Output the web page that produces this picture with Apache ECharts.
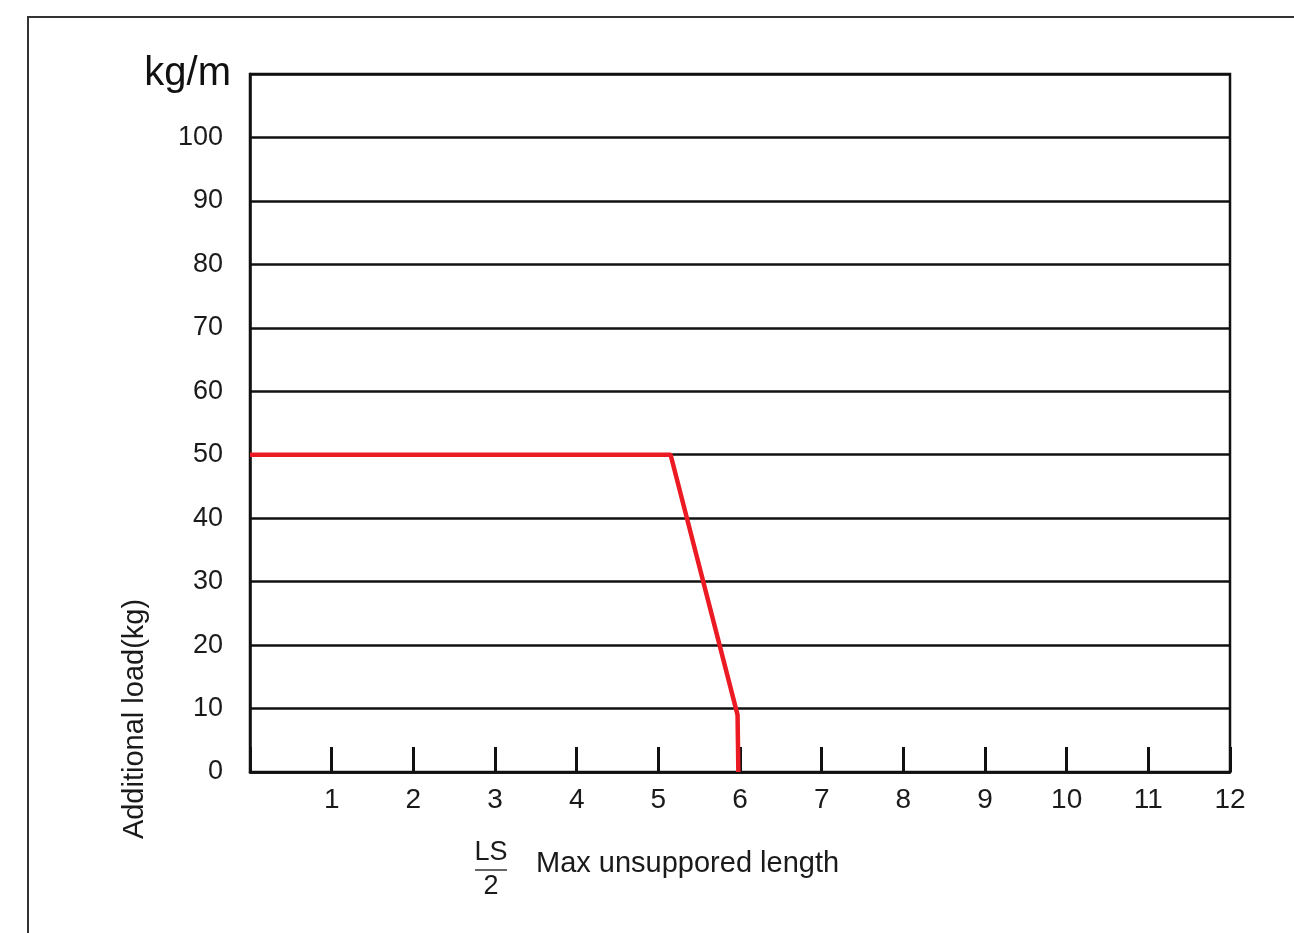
<!DOCTYPE html>
<html>
<head>
<meta charset="utf-8">
<script src="https://cdn.jsdelivr.net/npm/echarts@6/dist/echarts.min.js"></script>
<style>html,body{margin:0;padding:0;background:#fff;}#c{width:1294px;height:933px;}</style>
</head>
<body>
<div id="c"></div>
<script>
// Data
var lengthX = [0, 5.15, 5.97, 5.98];
var loadY = [50, 50, 9, 0];
var xTicks = [1,2,3,4,5,6,7,8,9,10,11,12];
var yTicks = [0,10,20,30,40,50,60,70,80,90,100];

var FONT = 'Liberation Sans, Arial, Helvetica, sans-serif';
var pts = lengthX.map(function(x, i){ return [x, loadY[i]]; });

var chart = echarts.init(document.getElementById('c'));
chart.setOption({
  backgroundColor: '#fff',
  animation: false,
  grid: {left: 250, right: 64, top: 74, bottom: 161, show: true, borderColor: '#111', borderWidth: 2.5, backgroundColor: 'transparent'},
  xAxis: {
    type: 'value', min: 0, max: 12, interval: 1,
    axisLine: {show: true, lineStyle: {color: '#111', width: 2.5}},
    axisTick: {show: true, inside: true, length: 25, lineStyle: {color: '#111', width: 3}},
    splitLine: {show: false},
    axisLabel: {
      margin: 14, fontSize: 28, color: '#1a1a1a', fontFamily: FONT,
      formatter: function(v){ return xTicks.indexOf(v) >= 0 ? String(v) : ''; }
    }
  },
  yAxis: {
    type: 'value', min: 0, max: 110, interval: 10,
    axisLine: {show: true, lineStyle: {color: '#111', width: 2.5}},
    axisTick: {show: false},
    splitLine: {show: true, lineStyle: {color: '#111', width: 2.5}},
    axisLabel: {
      margin: 27, fontSize: 27, color: '#1a1a1a', fontFamily: FONT, padding: [7, 0, 0, 0],
      formatter: function(v){ return yTicks.indexOf(v) >= 0 ? String(v) : ''; }
    }
  },
  series: [{
    type: 'line', data: pts, symbol: 'none',
    lineStyle: {color: '#ec1b23', width: 4.5}
  }],
  graphic: [
    {type: 'line', shape: {x1: 27, y1: 17, x2: 1294, y2: 17}, style: {stroke: '#333', lineWidth: 2}},
    {type: 'line', shape: {x1: 28, y1: 17, x2: 28, y2: 933}, style: {stroke: '#333', lineWidth: 2}},
    {type: 'text', style: {text: 'kg/m', x: 231, y: 74, align: 'right', verticalAlign: 'middle', font: '40px ' + FONT, fill: '#111'}},
    {type: 'text', rotation: Math.PI/2, x: 135, y: 719,
      style: {text: 'Additional load(kg)', x: 0, y: 0, align: 'center', verticalAlign: 'middle', font: '29px ' + FONT, fill: '#1a1a1a'}},
    {type: 'text', style: {text: 'LS', x: 491, y: 853, align: 'center', verticalAlign: 'middle', font: '27px ' + FONT, fill: '#1a1a1a'}},
    {type: 'line', shape: {x1: 475, y1: 870, x2: 507, y2: 870}, style: {stroke: '#333', lineWidth: 1.5}},
    {type: 'text', style: {text: '2', x: 491, y: 887, align: 'center', verticalAlign: 'middle', font: '27px ' + FONT, fill: '#1a1a1a'}},
    {type: 'text', style: {text: 'Max unsuppored length', x: 536, y: 864, align: 'left', verticalAlign: 'middle', font: '29px ' + FONT, fill: '#1a1a1a'}}
  ]
});
</script>
</body>
</html>
